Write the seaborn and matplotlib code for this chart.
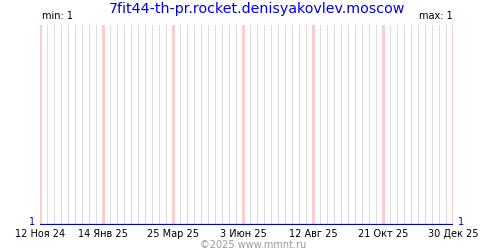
import matplotlib
matplotlib.use("Agg")
import matplotlib.pyplot as plt
import seaborn as sns
import pandas as pd

# Data
dates = ["2024-11-12", "2025-12-30"]
visits = [1, 1]
tick_dates = ["2024-11-12", "2025-01-14", "2025-03-25", "2025-06-03",
              "2025-08-12", "2025-10-21", "2025-12-30"]
tick_labels = ["12 Ноя 24", "14 Янв 25", "25 Мар 25", "3 Июн 25",
               "12 Авг 25", "21 Окт 25", "30 Дек 25"]
title = "7fit44-th-pr.rocket.denisyakovlev.moscow"
min_label = "min: 1"
max_label = "max: 1"
y_label_left = "1"
y_label_right = "1"
footer = "©2025 www.mmnt.ru"

sns.set_style("white")
plt.rcParams['font.family'] = ['DejaVu Sans']

df = pd.DataFrame({"date": pd.to_datetime(dates), "visits": visits})
start = df["date"].min()
end = df["date"].max()

fig = plt.figure(figsize=(5, 2.5), dpi=100)
ax = fig.add_axes([0.08, 0.1, 0.826, 0.8])

# weekly grey grid lines, red lines at labelled dates
red_days = set(pd.to_datetime(tick_dates))
weeks = pd.date_range(start, end, freq="7D")
for d in weeks:
    if d not in red_days:
        ax.axvline(d, color="#dddddd", lw=0.72, zorder=0, antialiased=False)
for d in sorted(red_days):
    ax.axvline(d, color="#ffcccc", lw=0.9, zorder=1, antialiased=False)

sns.lineplot(data=df, x="date", y="visits", ax=ax, color="#0000cc", lw=1.6, zorder=3)

ax.set_xlim(start, end)
ax.set_ylim(1, 2)
ax.set_xticks(pd.to_datetime(tick_dates))
ax.set_xticklabels(tick_labels, fontsize=7, color="black")
ax.tick_params(axis="x", length=0, pad=3)
ax.set_yticks([])
ax.set_xlabel("")
ax.set_ylabel("")
for s in ax.spines.values():
    s.set_visible(False)

fig.text(0.515, 0.965, title, color="#0000ee", fontsize=10.3, ha="center", va="center")
fig.text(0.084, 0.935, min_label, color="black", fontsize=7, ha="left", va="center")
fig.text(0.906, 0.935, max_label, color="black", fontsize=7, ha="right", va="center")
ax.text(-0.012, -0.012, y_label_left, transform=ax.transAxes, color="#0000cc",
        fontsize=7, ha="right", va="bottom")
ax.text(1.012, -0.012, y_label_right, transform=ax.transAxes, color="#0000cc",
        fontsize=7, ha="left", va="bottom")
fig.text(0.506, 0.02, footer, color="#999999", fontsize=7, ha="center", va="center")

fig.savefig("out.png", dpi=100, facecolor="white")
